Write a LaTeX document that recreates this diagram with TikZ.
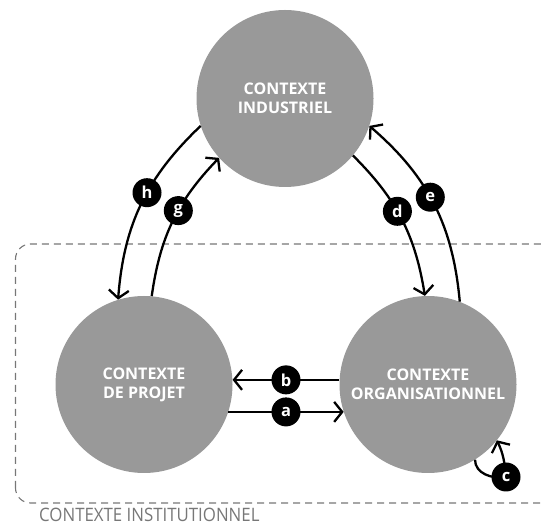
\documentclass[tikz,border=0pt]{standalone}
\usepackage{fontspec}
\setmainfont{Open Sans}
\newfontfamily\instfont[FakeStretch=0.91]{Open Sans}
\usetikzlibrary{arrows.meta}
\definecolor{ctxgray}{HTML}{999999}
\definecolor{boxgray}{HTML}{777777}
\newcommand{\contexte}[3]{%
 \node[ctx] ({#1}) at (#2) {#3};%
}
\begin{document}
\begin{tikzpicture}[x=1pt,y=1pt,
  ctx/.style={circle,fill=ctxgray,minimum size=177pt,inner sep=0pt,text=white,align=center,font=\bfseries\fontsize{16}{19}\selectfont},
  lbl/.style={circle,fill=black,text=white,minimum size=29pt,inner sep=0pt,font=\bfseries\fontsize{16.5}{16.5}\selectfont},
  flow/.style={line width=2.3pt,-{Straight Barb[length=8pt,width=20pt]}}]
   \useasboundingbox (0,0) rectangle (545,526);
   \draw[boxgray,line width=1.1pt,dash pattern=on 7pt off 5pt,rounded corners=15pt] (15.5,23) rectangle (570,282);
   \node[text=boxgray,inner sep=0pt,anchor=base west,font=\instfont\fontsize{18.5}{18.5}\selectfont] (inst) at (39,4) {CONTEXTE INSTITUTIONNEL};
   \contexte{ind}{285,427.5}{CONTEXTE\\INDUSTRIEL};
   \contexte{proj}{144,141.5}{CONTEXTE\\DE PROJET};
   \contexte{org}{428,141.5}{CONTEXTE\\ORGANISATIONNEL};
   \path[flow] (proj.-18) edge node[lbl]{a} (org.198);
   \path[flow] (org.177) edge node[lbl]{b} (proj.3);
   \path[flow] (ind.320) edge[bend left=18] node[lbl,pos=.44]{d} (org.92);
   \path[flow] (org.69) edge[bend right=22] node[lbl,pos=.54]{e} (ind.342);
   \path[flow] (proj.85) edge[bend left=18] node[lbl,pos=.58]{g} (ind.222);
   \path[flow] (ind.198) edge[bend right=21] node[lbl,pos=.43]{h} (proj.107);
   \coordinate (cpt) at (506,49);
   \draw[flow] (org.-58) to[out=-90,in=190] (cpt) to[out=95,in=-65] (org.-39);
   \node[lbl] (c) at (cpt) {c};
  \end{tikzpicture}
\end{document}
